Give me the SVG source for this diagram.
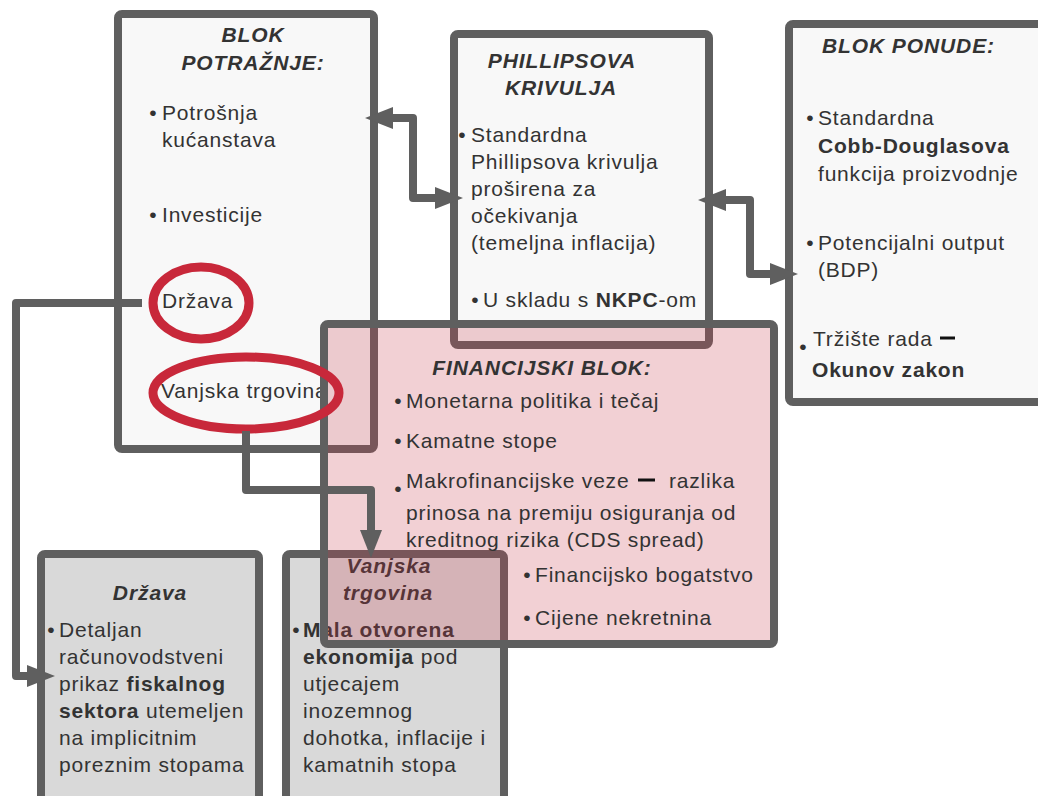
<svg xmlns="http://www.w3.org/2000/svg" width="1038" height="796" viewBox="0 0 1038 796">
<style>
text{font-family:"Liberation Sans",Arial,sans-serif;font-size:21px;letter-spacing:0.8px;fill:#333333}
.t{font-weight:bold;font-style:italic;letter-spacing:0.9px}
.b{font-weight:bold}
.bu{text-anchor:middle;letter-spacing:0}
.box{fill:#f8f8f8;stroke:#5f5f5f;stroke-width:8;stroke-linejoin:round}
.gbox{fill:#d9d9d9;stroke:#5f5f5f;stroke-width:8;stroke-linejoin:round}
.fin{fill:#c8394a;fill-opacity:0.24;stroke:#5f5f5f;stroke-width:8;stroke-linejoin:round}
.hl{fill:none;stroke:#c8283a;stroke-width:9}
.con{fill:none;stroke:#5f5f5f;stroke-width:8;stroke-linejoin:round}
.dash{stroke:#111111;stroke-width:3}
</style>
<defs>
<marker id="ah" markerUnits="userSpaceOnUse" markerWidth="30" markerHeight="24" refX="0" refY="11" orient="auto-start-reverse">
<path d="M0,0 L28,11 L0,22 z" fill="#5f5f5f"/>
</marker>
</defs>

<g id="demand">
<rect class="box" x="118" y="14" width="256" height="435" rx="4"/>
<text class="t" x="253" y="42" text-anchor="middle">BLOK</text>
<text class="t" x="253" y="70" text-anchor="middle">POTRAŽNJE:</text>
<text class="bu" x="153" y="120">•</text>
<text x="162" y="120">Potrošnja</text>
<text x="162" y="147">kućanstava</text>
<text class="bu" x="153" y="222">•</text>
<text x="162" y="222">Investicije</text>
<text x="162" y="308">Država</text>
<text x="161" y="398">Vanjska trgovina</text>
</g>

<g id="phillips">
<rect class="box" x="454" y="34" width="255" height="311" rx="4"/>
<text class="t" x="562" y="68" text-anchor="middle">PHILLIPSOVA</text>
<text class="t" x="561" y="95" text-anchor="middle">KRIVULJA</text>
<text class="bu" x="462" y="142">•</text>
<text x="471" y="142">Standardna</text>
<text x="471" y="169">Phillipsova krivulja</text>
<text x="471" y="196">proširena za</text>
<text x="471" y="223">očekivanja</text>
<text x="471" y="250">(temeljna inflacija)</text>
<text class="bu" x="475" y="307">•</text>
<text x="483" y="307">U skladu s <tspan class="b">NKPC</tspan>-om</text>
</g>

<g id="supply">
<rect class="box" x="789" y="24" width="280" height="378" rx="4"/>
<text class="t" x="822" y="53">BLOK PONUDE:</text>
<text class="bu" x="810" y="125">•</text>
<text x="818" y="125">Standardna</text>
<text class="b" x="818" y="153">Cobb-Douglasova</text>
<text x="818" y="181">funkcija proizvodnje</text>
<text class="bu" x="810" y="250">•</text>
<text x="818" y="250">Potencijalni output</text>
<text x="818" y="277">(BDP)</text>
<text class="bu" x="803" y="354">•</text>
<text x="813" y="346">Tržište rada</text>
<line class="dash" x1="940" y1="338" x2="955" y2="338"/>
<text class="b" x="812" y="377">Okunov zakon</text>
</g>

<g id="drzava">
<rect class="gbox" x="41" y="554" width="218" height="270" rx="4"/>
<text class="t" x="150" y="600" text-anchor="middle">Država</text>
<text class="bu" x="51" y="637">•</text>
<text x="59" y="637">Detaljan</text>
<text x="59" y="664">računovodstveni</text>
<text x="59" y="691">prikaz <tspan class="b">fiskalnog</tspan></text>
<text x="59" y="718"><tspan class="b">sektora</tspan> utemeljen</text>
<text x="59" y="745">na implicitnim</text>
<text x="59" y="772">poreznim stopama</text>
</g>

<g id="vanjska">
<rect class="gbox" x="286" y="554" width="218" height="270" rx="4"/>
<text class="t" x="389" y="573" text-anchor="middle">Vanjska</text>
<text class="t" x="388" y="600" text-anchor="middle">trgovina</text>
<text class="bu" x="296" y="637">•</text>
<text class="b" x="303" y="637">Mala otvorena</text>
<text x="303" y="664"><tspan class="b">ekonomija</tspan> pod</text>
<text x="303" y="691">utjecajem</text>
<text x="303" y="718">inozemnog</text>
<text x="303" y="745">dohotka, inflacije i</text>
<text x="303" y="772">kamatnih stopa</text>
</g>

<g id="financial">
<rect class="fin" x="324" y="324" width="450" height="320" rx="4"/>
<text class="t" x="542" y="375" text-anchor="middle">FINANCIJSKI BLOK:</text>
<text class="bu" x="398" y="408">•</text>
<text x="406" y="408">Monetarna politika i tečaj</text>
<text class="bu" x="398" y="448">•</text>
<text x="406" y="448">Kamatne stope</text>
<text class="bu" x="398" y="496">•</text>
<text x="406" y="488">Makrofinancijske veze</text>
<line class="dash" x1="638" y1="480" x2="655" y2="480"/>
<text x="669" y="488">razlika</text>
<text x="406" y="520">prinosa na premiju osiguranja od</text>
<text x="406" y="547">kreditnog rizika (CDS spread)</text>
<text class="bu" x="527" y="582">•</text>
<text x="535" y="582">Financijsko bogatstvo</text>
<text class="bu" x="527" y="625">•</text>
<text x="535" y="625">Cijene nekretnina</text>
</g>

<g id="highlights">
<ellipse class="hl" cx="201" cy="303" rx="48" ry="36"/>
<ellipse class="hl" cx="246" cy="393" rx="93" ry="36"/>
</g>

<g id="connectors">
<path class="con" d="M393 118 H413 V198 H435" marker-start="url(#ah)" marker-end="url(#ah)"/>
<path class="con" d="M726 200 H750 V274 H770" marker-start="url(#ah)" marker-end="url(#ah)"/>
<path class="con" d="M142 303 H16 V676 H27" marker-end="url(#ah)"/>
<path class="con" d="M246 431 V490 H371 V530" marker-end="url(#ah)"/>
</g>
</svg>
